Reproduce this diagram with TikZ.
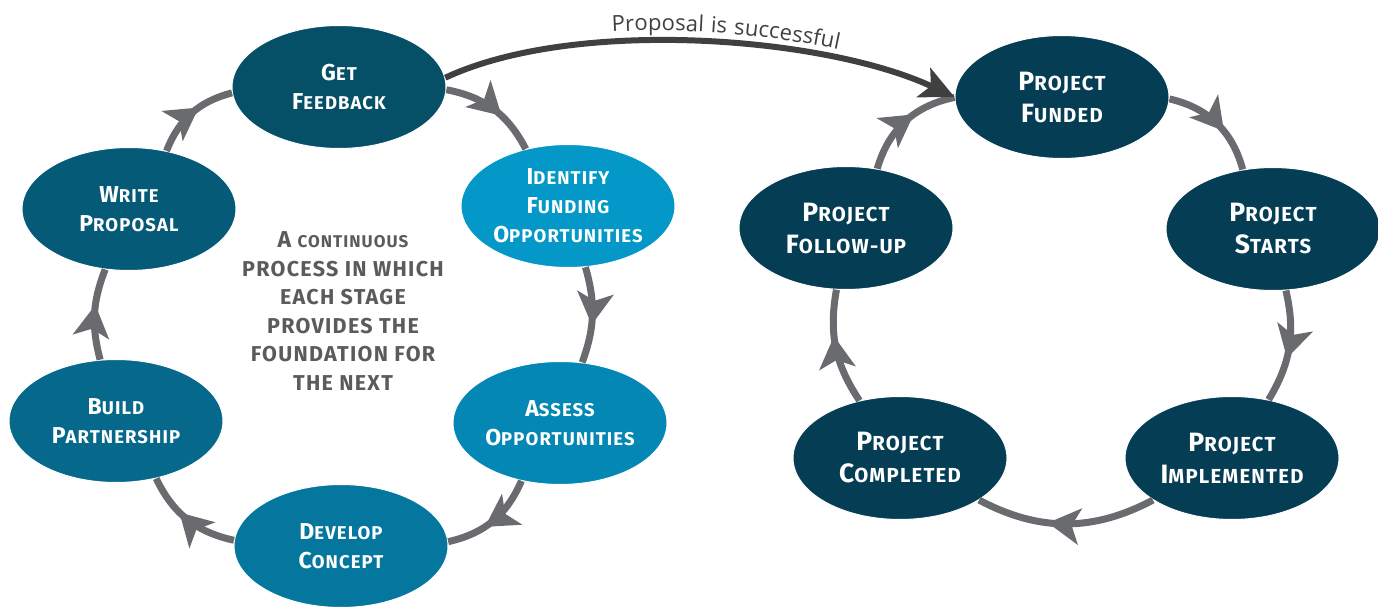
\documentclass[tikz,border=0pt]{standalone}
\usepackage{fontspec}
\usepackage{tikz}
\usetikzlibrary{shapes.geometric,arrows.meta,decorations.markings,decorations.text}
\usepackage{xcolor}

\newfontfamily\stagefont{Fira Sans}[LetterSpace=6]
\newfontfamily\notefont{Open Sans}[LetterSpace=5]

\definecolor{feedback}{HTML}{054F67}
\definecolor{proposal}{HTML}{055A78}
\definecolor{partner}{HTML}{06688A}
\definecolor{concept}{HTML}{05779E}
\definecolor{assess}{HTML}{0487B4}
\definecolor{identify}{HTML}{0398C7}
\definecolor{projblue}{HTML}{043D54}
\definecolor{arcgray}{HTML}{6A6B6E}
\definecolor{notegray}{HTML}{5A5B5D}
\definecolor{darkarrow}{HTML}{404040}

\newcommand\Cap[1]{{\fontsize{23}{28}\selectfont #1}}
\newcommand\Pcap[1]{{\fontsize{26.5}{32}\selectfont #1}}

\tikzset{
  stage/.style={ellipse, minimum width=214pt, minimum height=123pt, inner sep=0pt,
    draw=white, line width=1pt, text=white, align=center,
    font=\stagefont\bfseries\fontsize{18.5}{29}\selectfont},
  project/.style={stage, fill=projblue,
    font=\stagefont\bfseries\fontsize{20.3}{32}\selectfont},
  note/.style={text=notegray, align=center,
    font=\stagefont\bfseries\fontsize{21.5}{28.6}\selectfont},
  cycle arrow/.style={arcgray, line width=7pt, postaction={decorate},
    decoration={markings, mark=at position 0.6 with {\arrow{Stealth[length=32pt,width=36pt,inset=8pt]}}}},
  success arrow/.style={darkarrow, line width=6pt, -{Stealth[length=34pt,width=32pt,inset=8pt]}}
}

\begin{document}
\begin{tikzpicture}[x=1pt,y=1pt]
      \useasboundingbox (0,0) rectangle (1378,606);

      \node[stage,fill=feedback] (get feedback) at (339,519) {\Cap{G}ET\\\Cap{F}EEDBACK};
      \node[stage,fill=proposal] (write proposal) at (129,397) {\Cap{W}RITE\\\Cap{P}ROPOSAL};
      \node[stage,fill=identify] (identify funding) at (568,400) {\Cap{I}DENTIFY\\\Cap{F}UNDING\\\Cap{O}PPORTUNITIES};
      \node[stage,fill=partner] (build partnership) at (116,185) {\Cap{B}UILD\\\Cap{P}ARTNERSHIP};
      \node[stage,fill=assess] (assess opportunities) at (560,183) {\Cap{A}SSESS\\\Cap{O}PPORTUNITIES};
      \node[stage,fill=concept] (develop concept) at (341,60) {\Cap{D}EVELOP\\\Cap{C}ONCEPT};

      \node[note] (continuous process) at (343,295) {\Cap{A} {\fontsize{17}{20}\selectfont CONTINUOUS}\\PROCESS IN WHICH\\EACH STAGE\\PROVIDES THE\\FOUNDATION FOR\\THE NEXT};

      \node[project] (project funded) at (1062,509) {\Pcap{P}ROJECT\\\Pcap{F}UNDED};
      \node[project] (project starts) at (1273,377) {\Pcap{P}ROJECT\\\Pcap{S}TARTS};
      \node[project] (project implemented) at (1232,148) {\Pcap{P}ROJECT\\\Pcap{I}MPLEMENTED};
      \node[project] (project completed) at (900,148) {\Pcap{P}ROJECT\\\Pcap{C}OMPLETED};
      \node[project] (project follow-up) at (846,378) {\Pcap{P}ROJECT\\\Pcap{F}OLLOW-UP};

      \draw[cycle arrow] (write proposal) to[bend left=27] (get feedback);
      \draw[cycle arrow] (get feedback) to[bend left=26] (identify funding);
      \draw[cycle arrow] (identify funding) to[bend left=18] (assess opportunities);
      \draw[cycle arrow] (assess opportunities) to[bend left=27] (develop concept);
      \draw[cycle arrow] (develop concept) to[bend left=26] (build partnership);
      \draw[cycle arrow] (build partnership) to[bend left=18] (write proposal);

      \draw[cycle arrow] (project funded) to[bend left=31] (project starts);
      \draw[cycle arrow] (project starts) to[bend left=22] (project implemented);
      \draw[cycle arrow] (project implemented) to[bend left=28] (project completed);
      \draw[cycle arrow] (project completed) to[bend left=22] (project follow-up);
      \draw[cycle arrow] (project follow-up) to[bend left=31] (project funded);

      \draw[success arrow, postaction={decorate, decoration={text along path, raise=10pt,
          text align={left indent=172pt},
          text={|\notefont\fontsize{22}{26}\selectfont\color{darkarrow}|Proposal is successful}}}]
        (get feedback.5) to[out=25,in=155,looseness=0.72] (project funded.west);
    \end{tikzpicture}
\end{document}
